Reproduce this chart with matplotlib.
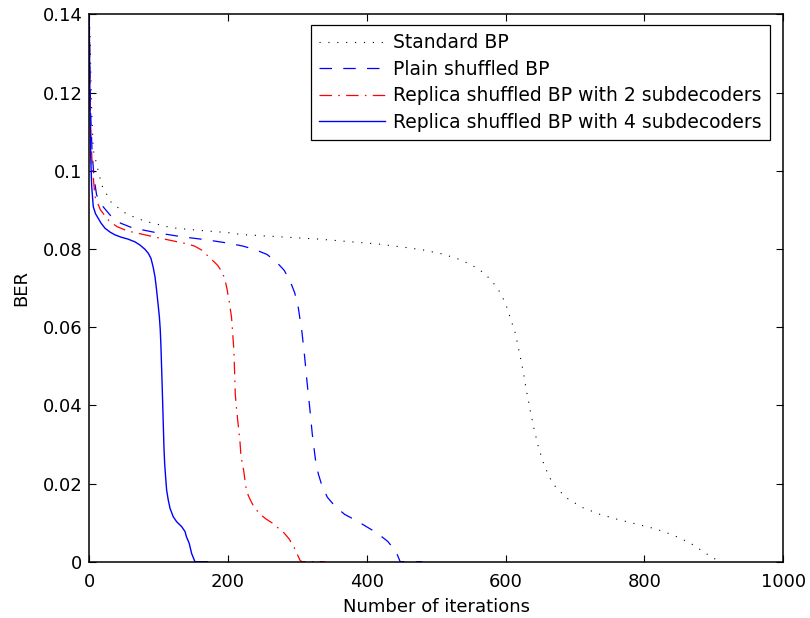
import matplotlib
matplotlib.use("Agg")
import matplotlib.pyplot as plt

plt.rcParams['font.family'] = ['DejaVu Sans']

# ---- data ----
std_x = [0, 1, 3.4, 5.8, 11.5, 17.9, 25, 32, 54, 80, 119, 162, 205, 217, 332, 419,
         427.5, 455, 482, 509, 535.6, 560, 570, 580, 589, 595.7, 601, 614, 619.6, 625,
         630, 635.5, 641, 647.5, 656, 668, 687, 710, 736, 762, 789, 816, 841.5, 866.6,
         889.6, 901.6, 905]
std_y = [0.139, 0.1351, 0.1155, 0.1053, 0.1010, 0.0963, 0.0940, 0.0918, 0.0889, 0.0871,
         0.0854, 0.0847, 0.0841, 0.0837, 0.0825, 0.0812, 0.0810, 0.0804, 0.0797, 0.0787,
         0.0772, 0.0750, 0.0736, 0.0718, 0.0697, 0.0676, 0.0654, 0.0584, 0.0536, 0.0489,
         0.0437, 0.0386, 0.0339, 0.0291, 0.0244, 0.0199, 0.0164, 0.0139, 0.0121, 0.0108,
         0.0096, 0.0084, 0.0068, 0.0047, 0.0020, 0.0007, 0.0]

plain_x = [0, 1, 2, 4, 7, 10.6, 18, 30.8, 45, 62, 98, 134, 170, 203, 222, 239, 256,
           269.5, 281, 290, 296, 301, 306.5, 310.4, 314, 318, 321.3, 326, 330, 335, 343,
           354, 368, 385, 415, 430, 442, 448, 480]
plain_y = [0.139, 0.125, 0.115, 0.105, 0.098, 0.0938, 0.0912, 0.0885, 0.0866, 0.0854,
           0.0841, 0.0831, 0.0823, 0.0814, 0.0807, 0.0798, 0.0786, 0.0767, 0.0745,
           0.0715, 0.0688, 0.0652, 0.0587, 0.0523, 0.0456, 0.0388, 0.0327, 0.0260,
           0.0225, 0.0196, 0.0165, 0.0142, 0.0121, 0.0105, 0.0073, 0.0052, 0.0026,
           0.0, 0.0]

rep2_x = [0, 1, 2, 4, 8.2, 16, 28.4, 40, 55, 98, 141, 152, 162, 177, 185, 191, 195,
          198, 201.7, 205, 206.6, 208.5, 210.4, 212.4, 214.7, 217, 218.6, 222.5, 225.8,
          229, 232.6, 238, 246, 254, 263.7, 281, 288, 294, 299, 303.6, 306, 340]
rep2_y = [0.139, 0.122, 0.112, 0.102, 0.0934, 0.0900, 0.0872, 0.0857, 0.0846, 0.0829,
          0.0813, 0.0807, 0.0797, 0.0772, 0.0758, 0.0742, 0.0725, 0.0702, 0.0665,
          0.0625, 0.0586, 0.0537, 0.0428, 0.0388, 0.0348, 0.0311, 0.0270, 0.0233,
          0.0190, 0.0170, 0.0156, 0.0138, 0.0122, 0.0110, 0.0099, 0.0073, 0.0058,
          0.0041, 0.0022, 0.0004, 0.0, 0.0]

rep4_x = [0, 1, 2, 3.5, 5.8, 9, 13, 17, 22.6, 30, 37, 46, 56, 65.9, 73, 80.3, 85, 88.9,
          92, 94.7, 97, 99, 101, 102.3, 103.3, 104.8, 106.2, 107.6, 108.6, 110, 111.5,
          113.8, 116.3, 121, 126, 133, 138, 140, 144, 147.5, 152.3, 170]
rep4_y = [0.139, 0.118, 0.104, 0.096, 0.0908, 0.0890, 0.0878, 0.0866, 0.0853, 0.0843,
          0.0836, 0.0830, 0.0825, 0.0818, 0.0810, 0.0799, 0.0789, 0.0776, 0.0754,
          0.0729, 0.0695, 0.0661, 0.0627, 0.0593, 0.0550, 0.0465, 0.0380, 0.0294,
          0.0252, 0.0217, 0.0183, 0.0158, 0.0137, 0.0115, 0.0102, 0.0090, 0.0077,
          0.0064, 0.0047, 0.0021, 0.0, 0.0]

labels = ['Standard BP', 'Plain shuffled BP',
          'Replica shuffled BP with 2 subdecoders',
          'Replica shuffled BP with 4 subdecoders']

x_ticks = [0, 200, 400, 600, 800, 1000]
y_ticks = [0, 0.02, 0.04, 0.06, 0.08, 0.1, 0.12, 0.14]
y_tick_labels = ['0', '0.02', '0.04', '0.06', '0.08', '0.1', '0.12', '0.14']

# ---- figure ----
fig = plt.figure(figsize=(8.1, 6.18), dpi=100)
ax = fig.add_axes([0.1102, 0.0911, 0.8568, 0.8857])

ax.plot(std_x, std_y, color='black', lw=0.8, linestyle=(0, (1, 7)), label=labels[0])
ax.plot(plain_x, plain_y, color='blue', lw=0.9, linestyle=(0, (10, 9)), label=labels[1])
ax.plot(rep2_x, rep2_y, color='red', lw=0.9, linestyle=(0, (10, 5, 1.3, 5)), label=labels[2])
ax.plot(rep4_x, rep4_y, color='blue', lw=1.0, linestyle='-', label=labels[3])

ax.set_xlim(0, 1000)
ax.set_ylim(0, 0.14)
ax.set_xticks(x_ticks)
ax.set_xticklabels([str(t) for t in x_ticks])
ax.set_yticks(y_ticks)
ax.set_yticklabels(y_tick_labels)
ax.tick_params(direction='in', top=True, right=True, length=5, width=0.8,
               labelsize=13, colors='black')
ax.tick_params(axis='y', pad=5)
ax.tick_params(axis='x', pad=8)
for s in ax.spines.values():
    s.set_linewidth(1.1)

ax.set_xlabel('Number of iterations', fontsize=13, labelpad=5)
ax.set_ylabel('BER', fontsize=13, labelpad=9)

leg = ax.legend(loc='upper right', bbox_to_anchor=(0.981, 0.9805), fontsize=13.5,
                handlelength=3.5, handletextpad=0.45, labelspacing=0.4,
                borderpad=0.45, fancybox=False, framealpha=1, edgecolor='black',
                borderaxespad=0)
leg.get_frame().set_linewidth(0.9)

fig.savefig('out.png', dpi=100)
